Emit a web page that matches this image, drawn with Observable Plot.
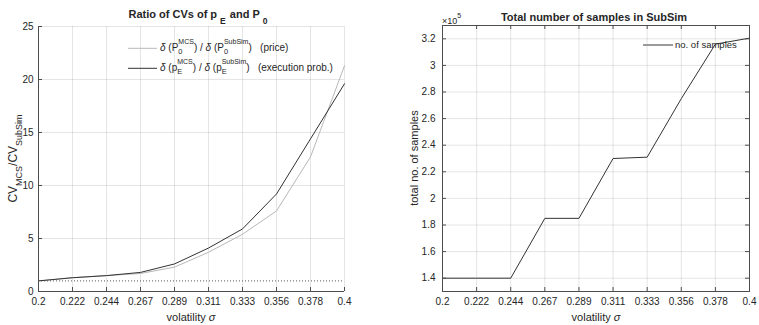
<!DOCTYPE html>
<html>
<head>
<meta charset="utf-8">
<script src="https://cdn.jsdelivr.net/npm/d3@7"></script>
<script src="https://cdn.jsdelivr.net/npm/@observablehq/plot@0.6"></script>
<style>
  html, body { margin: 0; padding: 0; background: #fff; }
  #wrap { position: relative; width: 759px; height: 325px; font-family: "Liberation Sans", Arial, sans-serif; }
  #wrap > svg { position: absolute; top: 0; }
  #overlay { left: 0; pointer-events: none; }
  #overlay text { white-space: pre; font-family: "Liberation Sans", Arial, sans-serif; }
</style>
</head>
<body>
<div id="wrap"></div>
<script>
// ---------- data ----------
const sigma = [0.2, 0.22222, 0.24444, 0.26667, 0.28889, 0.31111, 0.33333, 0.35556, 0.37778, 0.4];
const sigmaTickLabels = ["0.2", "0.222", "0.244", "0.267", "0.289", "0.311", "0.333", "0.356", "0.378", "0.4"];
const ratioPrice = [1.0, 1.3, 1.5, 1.7, 2.3, 3.7, 5.4, 7.6, 12.7, 21.3];
const ratioExec = [1.0, 1.3, 1.5, 1.8, 2.6, 4.1, 5.9, 9.2, 14.4, 19.6];
const ratioTicks = [0, 5, 10, 15, 20, 25];
const samples = [140000, 140000, 140000, 185000, 185000, 230000, 231000, 275000, 316000, 320500];
const sampleTicks = [140000, 160000, 180000, 200000, 220000, 240000, 260000, 280000, 300000, 320000];

const priceData = sigma.map((s, i) => ({s, v: ratioPrice[i]}));
const execData = sigma.map((s, i) => ({s, v: ratioExec[i]}));
const sampleData = sigma.map((s, i) => ({s, v: samples[i]}));

const INK = "#262626";
const AXIS = "#4d4d4d";
const fmtX = d => sigmaTickLabels[sigma.indexOf(d)];

// ---------- left chart ----------
const L = {w: 380, h: 325, ml: 38, mr: 36, mt: 26, mb: 34};
const LH = L.h - L.mt - L.mb, LW = L.w - L.ml - L.mr;
const left = Plot.plot({
  width: L.w, height: L.h,
  marginLeft: L.ml, marginRight: L.mr, marginTop: L.mt, marginBottom: L.mb,
  style: {fontFamily: "Liberation Sans, Arial, sans-serif", fontSize: "10px", color: INK, background: "white"},
  x: {domain: [0.2, 0.4]},
  y: {domain: [0, 25]},
  marks: [
    Plot.gridX(sigma, {stroke: INK, strokeOpacity: 0.12}),
    Plot.gridY(ratioTicks, {stroke: INK, strokeOpacity: 0.12}),
    Plot.ruleY([1], {stroke: "#555", strokeDasharray: "1,2", strokeWidth: 1}),
    Plot.line(priceData, {x: "s", y: "v", stroke: "#b8b8b8", strokeWidth: 1}),
    Plot.line(execData, {x: "s", y: "v", stroke: "#333", strokeWidth: 1}),
    Plot.ruleY([0], {stroke: AXIS}),
    Plot.ruleX([0.2], {stroke: AXIS}),
    Plot.tickX(sigma, {x: d => d, insetTop: LH - 4, stroke: AXIS}),
    Plot.tickY(ratioTicks, {y: d => d, insetRight: LW - 4, stroke: AXIS}),
    Plot.axisX(sigma, {tickSize: 0, tickPadding: 6, tickFormat: fmtX, label: null, fill: INK}),
    Plot.axisY(ratioTicks, {tickSize: 0, tickPadding: 5, label: null, fill: INK})
  ]
});
left.style.left = "0px";

// ---------- right chart ----------
const R = {w: 379, h: 325, ml: 62, mr: 10, mt: 25, mb: 34};
const RH = R.h - R.mt - R.mb, RW = R.w - R.ml - R.mr;
const right = Plot.plot({
  width: R.w, height: R.h,
  marginLeft: R.ml, marginRight: R.mr, marginTop: R.mt, marginBottom: R.mb,
  style: {fontFamily: "Liberation Sans, Arial, sans-serif", fontSize: "10px", color: INK, background: "white"},
  x: {domain: [0.2, 0.4]},
  y: {domain: [130000, 330000]},
  marks: [
    Plot.gridX(sigma, {stroke: INK, strokeOpacity: 0.12}),
    Plot.gridY(sampleTicks, {stroke: INK, strokeOpacity: 0.12}),
    Plot.line(sampleData, {x: "s", y: "v", stroke: "#333", strokeWidth: 1}),
    Plot.frame({stroke: AXIS}),
    Plot.tickX(sigma, {x: d => d, insetTop: RH - 4, stroke: AXIS}),
    Plot.tickX(sigma, {x: d => d, insetBottom: RH - 4, stroke: AXIS}),
    Plot.tickY(sampleTicks, {y: d => d, insetRight: RW - 4, stroke: AXIS}),
    Plot.tickY(sampleTicks, {y: d => d, insetLeft: RW - 4, stroke: AXIS}),
    Plot.axisX(sigma, {tickSize: 0, tickPadding: 6, tickFormat: fmtX, label: null, fill: INK}),
    Plot.axisY(sampleTicks, {tickSize: 0, tickPadding: 7, tickFormat: d => d3.format("~g")(+(d / 1e5).toFixed(2)), label: null, fill: INK})
  ]
});
right.style.left = "380px";

const wrap = document.getElementById("wrap");
wrap.appendChild(left);
wrap.appendChild(right);

// ---------- overlay text (titles, labels, legends) ----------
const NS = "http://www.w3.org/2000/svg";
const ov = document.createElementNS(NS, "svg");
ov.setAttribute("id", "overlay");
ov.setAttribute("width", 759);
ov.setAttribute("height", 325);
wrap.appendChild(ov);

function rich(x, y, parts, {anchor = "start", rotate = 0, weight = "normal", fill = INK, fs = 10} = {}) {
  const g = document.createElementNS(NS, "g");
  const inner = document.createElementNS(NS, "g");
  g.appendChild(inner);
  ov.appendChild(g);
  let cx = 0, stackX = null, stackW = 0;
  for (const p of parts) {
    const t = document.createElementNS(NS, "text");
    t.textContent = p.t;
    t.setAttribute("font-size", p.fs || fs);
    t.setAttribute("font-weight", weight);
    t.setAttribute("fill", fill);
    if (p.italic) t.setAttribute("font-style", "italic");
    const px = (stackX !== null ? stackX : cx) + (p.dx || 0);
    t.setAttribute("x", px);
    t.setAttribute("y", p.dy || 0);
    inner.appendChild(t);
    const w = t.getComputedTextLength();
    if (p.stack) { stackX = px; stackW = w; }
    else if (stackX !== null) { cx = stackX + Math.max(stackW, w); stackX = null; }
    else cx = px + w;
  }
  const shift = anchor === "middle" ? -cx / 2 : anchor === "end" ? -cx : 0;
  inner.setAttribute("transform", `translate(${shift},0)`);
  g.setAttribute("transform", `translate(${x},${y}) rotate(${rotate})`);
}
function legendLine(x1, x2, y, stroke, width) {
  const l = document.createElementNS(NS, "line");
  l.setAttribute("x1", x1); l.setAttribute("x2", x2);
  l.setAttribute("y1", y); l.setAttribute("y2", y);
  l.setAttribute("stroke", stroke); l.setAttribute("stroke-width", width);
  ov.appendChild(l);
}

// titles
rich(198, 17.5, [
  {t: "Ratio of CVs of p"}, {t: "E", fs: 8.5, dy: 6, dx: 3}, {t: " and P", dx: 1}, {t: "0", fs: 8.5, dy: 6, dx: 3}
], {anchor: "middle", weight: "bold", fs: 11});
rich(594, 21, [{t: "Total number of samples in SubSim"}], {anchor: "middle", weight: "bold", fs: 11});

// axis labels
rich(191, 321, [{t: "volatility "}, {t: "σ", italic: true}], {anchor: "middle", fs: 11});
rich(596, 321, [{t: "volatility "}, {t: "σ", italic: true}], {anchor: "middle", fs: 11});
rich(17, 158.5, [
  {t: "CV"}, {t: "MCS", fs: 9, dy: 4.5}, {t: "/CV"}, {t: "SubSim", fs: 9, dy: 4.5}
], {anchor: "middle", rotate: -90, fs: 12});
rich(418, 158, [{t: "total no. of samples"}], {anchor: "middle", rotate: -90, fs: 11});
rich(442, 24, [{t: "×10", fs: 9}, {t: "5", fs: 7, dy: -6}], {fill: INK});

// left legend
legendLine(128, 157, 48.3, "#b8b8b8", 1);
legendLine(128, 157, 68.3, "#333", 1);
const legParts = (base, sub, tail) => [
  {t: "δ", italic: true}, {t: " (" + base}, {t: "MCS", fs: 7, dy: -7.5, stack: true}, {t: sub, fs: 7.5, dy: 2.5}, {t: ") / "},
  {t: "δ", italic: true}, {t: " (" + base}, {t: "SubSim", fs: 7, dy: -7.5, stack: true}, {t: sub, fs: 7.5, dy: 2.5}, {t: ")   " + tail}
];
rich(160, 51.3, legParts("P", "0", "(price)"), {fs: 10});
rich(160, 71.3, legParts("p", "E", "(execution prob.)"), {fs: 10});

// right legend
legendLine(643, 673, 45, "#9a9a9a", 2);
rich(675, 48.3, [{t: "no. of samples"}], {fs: 9.5});
</script>
</body>
</html>
